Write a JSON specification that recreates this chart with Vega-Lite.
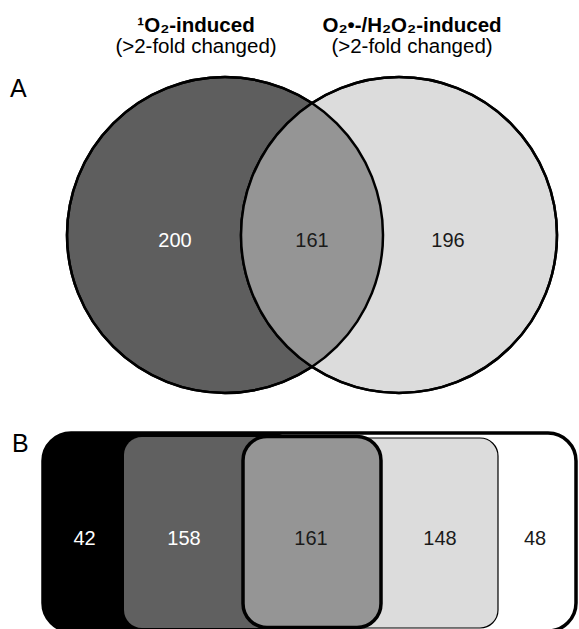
{
  "$schema": "https://vega.github.io/schema/vega-lite/v6.json",
  "width": 579,
  "height": 629,
  "padding": 0,
  "autosize": {"type": "none"},
  "background": "white",
  "config": {"view": {"stroke": null}, "text": {"font": "Liberation Sans"}},
  "encoding": {
    "x": {"field": "x", "type": "quantitative", "scale": {"domain": [0, 57.9], "nice": false, "zero": false}, "axis": null},
    "y": {"field": "y", "type": "quantitative", "scale": {"domain": [0, 62.9], "nice": false, "zero": false, "reverse": true}, "axis": null}
  },
  "layer": [
    {
      "data": {"values": [{"set": "1O2", "x": 22.5, "y": 23.5}, {"set": "O2H2O2", "x": 39.9, "y": 23.5}]},
      "mark": {"type": "point", "shape": "circle", "size": 99856, "filled": true, "opacity": 1, "stroke": "black", "strokeWidth": 2.5},
      "encoding": {"color": {"field": "set", "type": "nominal", "scale": {"domain": ["1O2", "O2H2O2"], "range": ["#5e5e5e", "#dcdcdc"]}, "legend": null}}
    },
    {
      "data": {"values": [{"x": 31.2, "y": 23.5}]},
      "mark": {"type": "point", "shape": "M0,-0.8348A1,1,0,0,1,0,0.8348A1,1,0,0,1,0,-0.8348Z", "size": 99856, "filled": true, "fill": "#959595", "opacity": 1, "strokeWidth": 0}
    },
    {
      "data": {"values": [{"set": "1O2", "x": 22.5, "y": 23.5}, {"set": "O2H2O2", "x": 39.9, "y": 23.5}]},
      "mark": {"type": "point", "shape": "circle", "size": 99856, "filled": false, "opacity": 1, "stroke": "black", "strokeWidth": 2.5}
    },
    {
      "data": {"values": [{"n": "200", "x": 17.5, "y": 24.7}]},
      "mark": {"type": "text", "fontSize": 20, "align": "center", "baseline": "alphabetic", "color": "white"},
      "encoding": {"text": {"field": "n"}}
    },
    {
      "data": {"values": [{"n": "161", "x": 31.2, "y": 24.7}, {"n": "196", "x": 44.8, "y": 24.7}]},
      "mark": {"type": "text", "fontSize": 20, "align": "center", "baseline": "alphabetic", "color": "#1a1a1a"},
      "encoding": {"text": {"field": "n"}}
    },
    {
      "data": {"values": [{"x": 4.3, "x2": 57.6, "y": 43.3, "y2": 63.1}]},
      "mark": {"type": "rect", "fill": "white", "stroke": "black", "strokeWidth": 3.5, "cornerRadius": 28},
      "encoding": {"x2": {"field": "x2"}, "y2": {"field": "y2"}}
    },
    {
      "data": {"values": [{"x": 4.3, "x2": 30.0, "y": 43.3, "y2": 63.1}]},
      "mark": {"type": "rect", "fill": "black", "cornerRadius": 28},
      "encoding": {"x2": {"field": "x2"}, "y2": {"field": "y2"}}
    },
    {
      "data": {"values": [{"x": 12.4, "x2": 30.0, "y": 43.7, "y2": 62.8}]},
      "mark": {"type": "rect", "fill": "#606060", "cornerRadius": 18},
      "encoding": {"x2": {"field": "x2"}, "y2": {"field": "y2"}}
    },
    {
      "data": {"values": [{"x": 30.0, "x2": 49.8, "y": 43.8, "y2": 62.8}]},
      "mark": {"type": "rect", "fill": "#dcdcdc", "stroke": "black", "strokeWidth": 1.2, "cornerRadius": 18},
      "encoding": {"x2": {"field": "x2"}, "y2": {"field": "y2"}}
    },
    {
      "data": {"values": [{"x": 24.3, "x2": 38.1, "y": 43.65, "y2": 62.75}]},
      "mark": {"type": "rect", "fill": "#959595", "stroke": "black", "strokeWidth": 3.5, "cornerRadius": 24},
      "encoding": {"x2": {"field": "x2"}, "y2": {"field": "y2"}}
    },
    {
      "data": {"values": [{"n": "42", "x": 8.45, "y": 54.5}, {"n": "158", "x": 18.4, "y": 54.5}]},
      "mark": {"type": "text", "fontSize": 20, "align": "center", "baseline": "alphabetic", "color": "white"},
      "encoding": {"text": {"field": "n"}}
    },
    {
      "data": {"values": [{"n": "161", "x": 31.1, "y": 54.5}, {"n": "148", "x": 44.0, "y": 54.5}, {"n": "48", "x": 53.5, "y": 54.5}]},
      "mark": {"type": "text", "fontSize": 20, "align": "center", "baseline": "alphabetic", "color": "#1a1a1a"},
      "encoding": {"text": {"field": "n"}}
    },
    {
      "data": {"values": [{"t": "¹O₂-induced", "x": 19.6, "y": 3.2}, {"t": "O₂•-/H₂O₂-induced", "x": 41.2, "y": 3.2}]},
      "mark": {"type": "text", "fontSize": 20.5, "fontWeight": "bold", "align": "center", "baseline": "alphabetic", "color": "black"},
      "encoding": {"text": {"field": "t"}}
    },
    {
      "data": {"values": [{"t": "(>2-fold changed)", "x": 19.6, "y": 5.3}, {"t": "(>2-fold changed)", "x": 41.2, "y": 5.3}]},
      "mark": {"type": "text", "fontSize": 20.5, "align": "center", "baseline": "alphabetic", "color": "black"},
      "encoding": {"text": {"field": "t"}}
    },
    {
      "data": {"values": [{"t": "A", "x": 1.0, "y": 9.7}, {"t": "B", "x": 1.2, "y": 45.2}]},
      "mark": {"type": "text", "fontSize": 25, "align": "left", "baseline": "alphabetic", "color": "black"},
      "encoding": {"text": {"field": "t"}}
    }
  ]
}
